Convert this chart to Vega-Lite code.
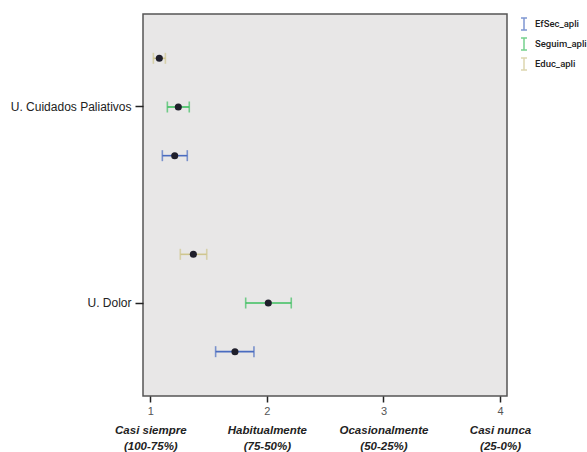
{
  "$schema": "https://vega.github.io/schema/vega-lite/v6.json",
  "width": 364,
  "height": 382,
  "padding": {"left": 10, "top": 14, "right": 5, "bottom": 5},
  "background": "white",
  "config": {
    "font": "Liberation Sans",
    "view": {"fill": "#e8e7e7", "stroke": "#555555", "strokeWidth": 1.5}
  },
  "data": {
    "values": [
      {"unit": "U. Cuidados Paliativos", "var": "Educ_apli", "mean": 1.077, "lo": 1.026, "hi": 1.129},
      {"unit": "U. Cuidados Paliativos", "var": "Seguim_apli", "mean": 1.24, "lo": 1.146, "hi": 1.334},
      {"unit": "U. Cuidados Paliativos", "var": "EfSec_apli", "mean": 1.209, "lo": 1.103, "hi": 1.317},
      {"unit": "U. Dolor", "var": "Educ_apli", "mean": 1.369, "lo": 1.257, "hi": 1.484},
      {"unit": "U. Dolor", "var": "Seguim_apli", "mean": 2.012, "lo": 1.818, "hi": 2.209},
      {"unit": "U. Dolor", "var": "EfSec_apli", "mean": 1.726, "lo": 1.56, "hi": 1.889}
    ]
  },
  "encoding": {
    "y": {
      "field": "unit",
      "type": "nominal",
      "scale": {"domain": ["U. Cuidados Paliativos", "U. Dolor"], "paddingInner": 0.2551, "paddingOuter": 0.102},
      "axis": {
        "title": null,
        "domain": false,
        "labelFontSize": 12,
        "labelColor": "#222222",
        "labelPadding": 4,
        "tickSize": 8,
        "tickWidth": 1.5,
        "tickColor": "#222222"
      }
    },
    "yOffset": {
      "field": "var",
      "type": "nominal",
      "scale": {"domain": ["Educ_apli", "Seguim_apli", "EfSec_apli"], "paddingInner": 0, "paddingOuter": 0}
    }
  },
  "layer": [
    {
      "mark": {"type": "rule", "strokeWidth": 1.6},
      "encoding": {
        "x": {
          "field": "lo",
          "type": "quantitative",
          "scale": {"domain": [0.937, 4.06], "nice": false, "zero": false},
          "axis": {
            "orient": "bottom",
            "title": null,
            "values": [1, 2, 3, 4],
            "grid": false,
            "domain": false,
            "tickSize": 6,
            "tickWidth": 1.5,
            "tickColor": "#222222",
            "labelFontSize": 11,
            "labelColor": "#555555",
            "labelPadding": 3
          }
        },
        "x2": {"field": "hi"},
        "color": {
          "field": "var",
          "type": "nominal",
          "scale": {"domain": ["EfSec_apli", "Seguim_apli", "Educ_apli"], "range": ["#4a6cc0", "#3dbf5f", "#cfc68f"]},
          "legend": {
            "title": null,
            "orient": "none",
            "legendX": 374,
            "legendY": 3,
            "padding": 0,
            "symbolType": "M-0.5,-1L0.5,-1M0,-1L0,1M-0.5,1L0.5,1",
            "symbolSize": 144,
            "symbolStrokeWidth": 1.5,
            "symbolFillColor": "transparent",
            "labelFont": "Roboto",
            "labelFontWeight": 500,
            "labelFontSize": 9.5,
            "labelColor": "#222222",
            "labelOffset": 4,
            "labelLimit": 80,
            "rowPadding": 2
          }
        }
      }
    },
    {
      "mark": {"type": "tick", "size": 11, "thickness": 1.6, "orient": "vertical"},
      "encoding": {
        "x": {"field": "lo", "type": "quantitative", "axis": null},
        "color": {"field": "var", "type": "nominal"}
      }
    },
    {
      "mark": {"type": "tick", "size": 11, "thickness": 1.6, "orient": "vertical"},
      "encoding": {
        "x": {"field": "hi", "type": "quantitative", "axis": null},
        "color": {"field": "var", "type": "nominal"}
      }
    },
    {
      "mark": {"type": "circle", "size": 50, "opacity": 1, "color": "#1f1f2b"},
      "encoding": {
        "x": {
          "field": "mean",
          "type": "quantitative",
          "axis": {
            "orient": "bottom",
            "title": null,
            "values": [1, 2, 3, 4],
            "grid": false,
            "domain": false,
            "ticks": false,
            "labelFontSize": 11.5,
            "labelFontStyle": "italic",
            "labelFontWeight": "bold",
            "labelColor": "#222222",
            "labelPadding": 28,
            "labelLineHeight": 16,
            "labelExpr": "datum.value == 1 ? ['Casi siempre', '(100-75%)'] : datum.value == 2 ? ['Habitualmente', '(75-50%)'] : datum.value == 3 ? ['Ocasionalmente', '(50-25%)'] : ['Casi nunca', '(25-0%)']"
          }
        }
      }
    }
  ],
  "resolve": {"axis": {"x": "independent"}}
}
